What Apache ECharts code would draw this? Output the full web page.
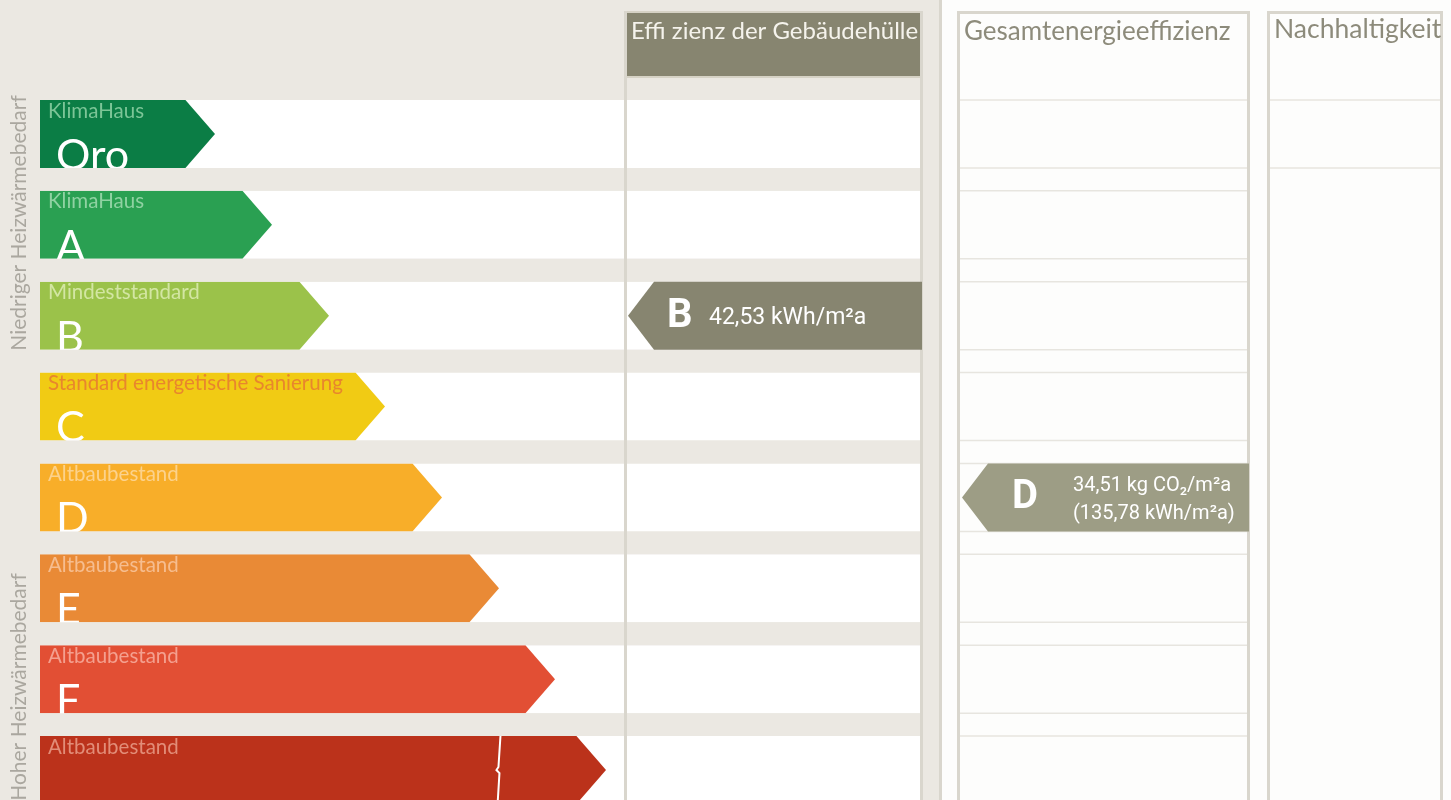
<!DOCTYPE html>
<html>
<head>
<meta charset="utf-8">
<script src="https://cdn.jsdelivr.net/npm/echarts@6/dist/echarts.min.js"></script>
<style>
html,body{margin:0;padding:0;background:#fdfdfc;}
#chart{width:1451px;height:800px;}
</style>
</head>
<body>
<div id="chart"></div>
<script>
// energy classes, best on top
var classes = ['Oro', 'A', 'B', 'C', 'D', 'E', 'F', 'G'];
var classNotes = ['KlimaHaus', 'KlimaHaus', 'Mindeststandard', 'Standard energetische Sanierung',
                  'Altbaubestand', 'Altbaubestand', 'Altbaubestand', 'Altbaubestand'];
// length of each class arrow (x axis units)
var arrowLength = [175, 232, 289, 345, 402, 459, 515, 566];
var columnTitles = ['Effi zienz der Gebäudehülle', 'Gesamtenergieeffizienz', 'Nachhaltigkeit'];
var sideLabels = ['Niedriger Heizwärmebedarf', 'Hoher Heizwärmebedarf'];
// results of the building
var envelopeClass = 'B';
var envelopeValue = [42.53];          // kWh/m²a
var totalClass = 'D';
var totalValue = [34.51, 135.78];     // kg CO2/m²a , kWh/m²a

// styles
var arrowColors = ['#0b7d45', '#2aa052', '#9bc24a', '#f1cb14', '#f8ae29', '#e98a36', '#e24f34', '#bb321b'];
var noteColors = ['#7cc597', '#8fd2a2', '#d3e6a3', '#e8862d', '#fcd28c', '#f6bd8f', '#f4a08f', '#e28d78'];
var BEIGE = '#ebe8e2', FRAME = '#d9d6cd', OLIVE = '#878570', LINE = '#e7e5df';
var ROW = 0.748;       // white part of every band
var LEFT_END = 922;

function fmt(v) { return v.toFixed(2).replace('.', ','); }

// class i occupies the band [i-0.5, i+0.5] of the y axis
function band(api, i) {
    var c = api.coord([0, i]);
    var step = api.size([0, 1])[1];
    var top = c[1] - step / 2;
    return { x0: c[0], top: top, h: step * ROW, bottom: top + step * ROW, step: step };
}

function renderRow(params, api) {
    var i = api.value(1);
    var b = band(api, i);
    var ls = { stroke: LINE, lineWidth: 1.5 };
    var kids = [
        { type: 'rect', shape: { x: b.x0, y: b.top, width: LEFT_END - b.x0, height: b.h }, style: { fill: '#ffffff' } },
        { type: 'line', shape: { x1: 959, y1: b.top, x2: 1248, y2: b.top }, style: ls },
        { type: 'line', shape: { x1: 959, y1: b.bottom, x2: 1248, y2: b.bottom }, style: ls }
    ];
    if (i === 0) {
        kids.push({ type: 'line', shape: { x1: 1269, y1: b.top, x2: 1440, y2: b.top }, style: ls });
        kids.push({ type: 'line', shape: { x1: 1269, y1: b.bottom, x2: 1440, y2: b.bottom }, style: ls });
    }
    return { type: 'group', children: kids };
}

function renderArrow(params, api) {
    var i = api.value(1);
    var b = band(api, i);
    var tip = api.coord([api.value(0), i])[0];
    var d = b.h * 0.435;
    var kids = [
        { type: 'polygon', shape: { points: [[b.x0, b.top], [tip - d, b.top], [tip, b.top + b.h / 2], [tip - d, b.bottom], [b.x0, b.bottom]] },
          style: { fill: arrowColors[i] } },
        { type: 'text', style: { text: classNotes[i], x: b.x0 + 8, y: b.top + 11, fill: noteColors[i],
          font: '20.5px Lato', align: 'left', verticalAlign: 'middle' } }
    ];
    // last class letter is cut off by the bottom edge
    if (i < classes.length - 1) {
        kids.push({ type: 'text', style: { text: classes[i], x: b.x0 + 16, y: b.bottom - 12, fill: '#ffffff',
          font: '43px Lato', align: 'left', verticalAlign: 'middle' } });
    } else {
        var xb = b.x0 + (tip - b.x0) * 0.81;
        kids.push({ type: 'polyline', shape: { points: [[xb + 2, b.top], [xb, b.top + 31], [xb - 2, b.top + 34], [xb + 1, b.top + 37], [xb - 1, b.top + 70]] },
          style: { stroke: '#ffffff', lineWidth: 2, fill: null } });
    }
    return { type: 'group', children: kids };
}

function renderGap(params, api) {
    var i = api.value(1);
    var b = band(api, i);
    return { type: 'rect', shape: { x: b.x0, y: b.bottom, width: LEFT_END - b.x0, height: b.step - b.h }, style: { fill: BEIGE } };
}

function pointer(left, right, color, letter, letterX, lines, textX, textFont, lineGap) {
    return function (params, api) {
        var b = band(api, api.value(1));
        var d = 26, mid = b.top + b.h / 2;
        var kids = [
            { type: 'polygon', shape: { points: [[left, mid], [left + d, b.top], [right, b.top], [right, b.bottom], [left + d, b.bottom]] },
              style: { fill: color } },
            { type: 'text', style: { text: letter, x: letterX, y: mid + 1, fill: '#ffffff',
              font: 'bold 40px Roboto', align: 'left', verticalAlign: 'middle' } }
        ];
        lines.forEach(function (t, k) {
            kids.push({ type: 'text', style: { text: t, x: textX, y: mid + (k - (lines.length - 1) / 2) * lineGap + 3, fill: '#ffffff',
              font: textFont, align: 'left', verticalAlign: 'middle' } });
        });
        return { type: 'group', children: kids };
    };
}

var rowData = classes.map(function (c, i) { return [0, i]; });
var arrowData = classes.map(function (c, i) { return [arrowLength[i], i]; });

var chart = echarts.init(document.getElementById('chart'));
chart.setOption({
    backgroundColor: '#fdfdfc',
    animation: false,
    grid: { left: 40, right: 0, top: 100, bottom: 0 },
    xAxis: { type: 'value', min: 0, max: 1411, show: false },
    // the last band runs past the bottom edge, as in the picture
    yAxis: { type: 'value', inverse: true, min: -0.5, max: 7.204, show: false },
    graphic: [
        { type: 'rect', z: 0, shape: { x: 0, y: 0, width: 939, height: 800 }, style: { fill: BEIGE } },
        { type: 'rect', z: 0, shape: { x: 939, y: 0, width: 3, height: 800 }, style: { fill: FRAME } },
        // column 1
        { type: 'rect', z: 10, shape: { x: 626, y: 12, width: 295, height: 65 }, style: { fill: OLIVE, stroke: '#d6d2c5', lineWidth: 2 } },
        { type: 'rect', z: 10, shape: { x: 624, y: 11, width: 3, height: 789 }, style: { fill: FRAME } },
        { type: 'rect', z: 10, shape: { x: 920, y: 11, width: 3, height: 789 }, style: { fill: FRAME } },
        { type: 'text', z: 11, x: 631, y: 31, style: { text: columnTitles[0], fill: '#f5f3ec', font: '24px Lato', align: 'left', verticalAlign: 'middle' } },
        // column 2
        { type: 'rect', z: 10, shape: { x: 958.5, y: 12.5, width: 290, height: 800 }, style: { fill: null, stroke: FRAME, lineWidth: 3 } },
        { type: 'text', z: 11, x: 964, y: 32, style: { text: columnTitles[1], fill: '#8d8b7b', font: '26px Lato', align: 'left', verticalAlign: 'middle' } },
        // column 3
        { type: 'rect', z: 10, shape: { x: 1268.5, y: 12.5, width: 173, height: 800 }, style: { fill: null, stroke: FRAME, lineWidth: 3 } },
        { type: 'text', z: 11, x: 1274, y: 29, style: { text: columnTitles[2], fill: '#8d8b7b', font: '26.5px Lato', align: 'left', verticalAlign: 'middle' } },
        // side labels
        { type: 'text', z: 11, x: 19, y: 223, rotation: Math.PI / 2, style: { text: sideLabels[0], fill: '#aaa79f', font: '21px Lato', align: 'center', verticalAlign: 'middle' } },
        { type: 'text', z: 11, x: 19, y: 687, rotation: Math.PI / 2, style: { text: sideLabels[1], fill: '#aaa79f', font: '21px Lato', align: 'center', verticalAlign: 'middle' } }
    ],
    series: [
        { type: 'custom', z: 1, renderItem: renderRow, data: rowData },
        { type: 'custom', z: 2, renderItem: renderArrow, data: arrowData },
        { type: 'custom', z: 3, renderItem: renderGap, data: rowData },
        { type: 'custom', z: 20, renderItem: pointer(628, 922, OLIVE, envelopeClass, 667,
            [fmt(envelopeValue[0]) + ' kWh/m²a'], 709, '23px Roboto', 0),
          data: [[0, classes.indexOf(envelopeClass)]] },
        { type: 'custom', z: 20, renderItem: pointer(962, 1249, '#9d9d85', totalClass, 1012,
            [fmt(totalValue[0]) + ' kg CO₂/m²a', '(' + fmt(totalValue[1]) + ' kWh/m²a)'], 1073, '20px Roboto', 28),
          data: [[0, classes.indexOf(totalClass)]] }
    ]
});
</script>
</body>
</html>
